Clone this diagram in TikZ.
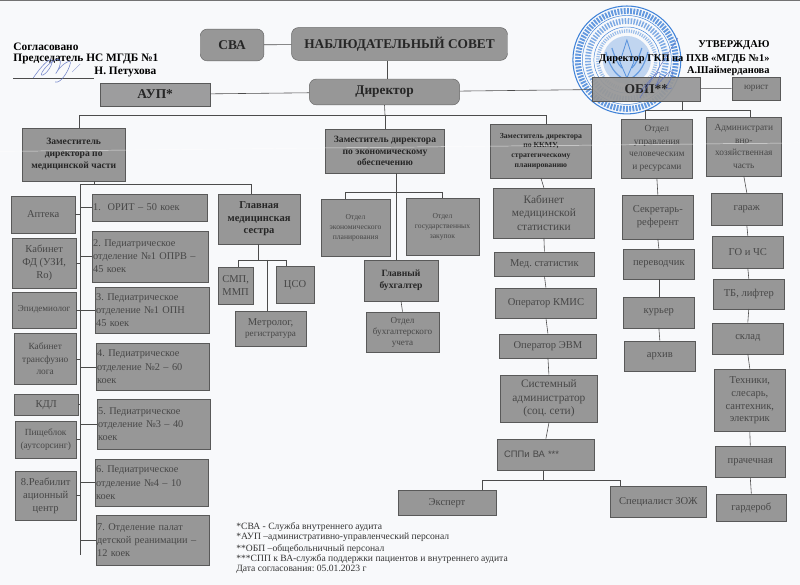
\documentclass[tikz,border=0pt]{standalone}
\usepackage{fontspec}
\setmainfont{Liberation Serif}
\newfontfamily\sansbox{Liberation Sans}
\definecolor{boxgray}{HTML}{979797}
\definecolor{papergray}{HTML}{F8F9FB}
\definecolor{stampblue}{HTML}{3F82D8}
\definecolor{inkblue}{HTML}{5A6FC0}
\frenchspacing
\tikzset{
  stbox/.style={draw=black!65,fill=boxgray,text=black!72,align=center,inner sep=1pt,font=\fontsize{9}{11}\selectfont},
  stleft/.style={stbox,align=left,text width=#1,font=\fontsize{8.8}{11.3}\selectfont},
  bigbox/.style={stbox,font=\fontsize{9.7}{11.5}\selectfont},
  midbox/.style={stbox,font=\fontsize{8}{10.6}\selectfont},
  rbox/.style={stbox,rounded corners=6pt,draw=black!60,text=black!85,font=\fontsize{11.4}{13}\selectfont\bfseries},
  boldbox/.style={stbox,text=black!85,font=\fontsize{8.2}{10.2}\selectfont\bfseries},
  smallbox/.style={stbox,font=\fontsize{7.8}{9.5}\selectfont},
  tinybox/.style={stbox,font=\fontsize{6.5}{8.5}\selectfont},
  conn/.style={draw=black!70,line width=.5pt},
  txt/.style={inner sep=0pt,font=\fontsize{8.9}{10}\selectfont\bfseries},
  txtl/.style={inner sep=0pt,anchor=west,font=\fontsize{9.7}{10}\selectfont\bfseries},
  note/.style={inner sep=0pt,anchor=west,text=black!80,font=\fontsize{8.2}{10}\selectfont}
}
\begin{document}
\begin{tikzpicture}[x=0.03cm,y=-0.03cm]
  \fill[papergray](0,0)rectangle(800,585);
  \fill[black!55](0,0)rectangle(800,1);
  % stamp
  \begin{scope}[stampblue]
    \draw[line width=.9pt](627,60)circle(54);
    \draw[line width=5pt,dash pattern=on 1.6pt off 1.1pt,opacity=.8](627,60)circle(49);
    \draw[line width=.4pt](627,60)circle(44.5);
    \draw[line width=5pt,dash pattern=on 1.3pt off 1.2pt,opacity=.65](627,60)circle(39);
    \draw[line width=.4pt](627,60)circle(33);
    \draw[line width=3pt,dash pattern=on 1pt off 1pt,opacity=.5](627,60)circle(29);
    \fill[opacity=.3](627,60)circle(24);
    \draw[line width=.7pt,opacity=.8](627,40)--(620,62)--(627,78)--(634,62)--cycle;
    \draw[line width=1pt,opacity=.7](606,52)..controls(610,68)and(616,74)..(622,78);
    \draw[line width=1pt,opacity=.7](648,52)..controls(644,68)and(638,74)..(632,78);
    \draw[line width=1pt,opacity=.7](612,48)..controls(616,60)and(618,64)..(622,68);
    \draw[line width=1pt,opacity=.7](642,48)..controls(638,60)and(636,64)..(632,68);
  \end{scope}
  % boxes
  \foreach \n/\x/\y/\w/\h/\t in {sva/232/45/64/32/СВА,nabl/399.5/44/217/33/НАБЛЮДАТЕЛЬНЫЙ СОВЕТ,direktor/384.5/92/151/26/Директор}{
    \node[rbox,minimum width=\w*0.85pt,minimum height=\h*0.85pt](\n)at(\x,\y){\t};
  }
  \foreach \n/\x/\y/\w/\h/\t in {aup/155/94.5/110/23/АУП*,obp/646.5/89/109/24/ОБП**}{
    \node[stbox,fill opacity=.93,text opacity=1,text=black!85,minimum width=\w*0.85pt,minimum height=\h*0.85pt,font=\fontsize{11.5}{13}\selectfont\bfseries](\n)at(\x,\y){\t};
  }
  \foreach \n/\x/\y/\w/\h/\t in {
    zammed/73.5/154.5/103/53/{Заместитель\\директора по\\медицинской части},
    zamecon/385/151/120/44/{Заместитель директора\\по экономическому\\обеспечению},
    buh/401/280.5/74/41/{Главный\\бухгалтер}}{
    \node[boldbox,minimum width=\w*0.85pt,minimum height=\h*0.85pt](\n)at(\x,\y){\t};
  }
  \node[boldbox,font=\fontsize{6.6}{8.3}\selectfont\bfseries,minimum width=102*0.85pt,minimum height=54*0.85pt](zamkkmu)at(541,151){Заместитель директора\\по ККМУ,\\стратегическому\\планированию};
  \node[boldbox,font=\fontsize{9}{10.6}\selectfont\bfseries,minimum width=82*0.85pt,minimum height=50*0.85pt](glav)at(259,219){Главная\\медицинская\\сестра};
  \foreach \n/\x/\y/\w/\h/\t in {
    plan/355.5/227.5/69/57/{Отдел\\экономического\\планирования},
    gos/442.5/226.5/73/57/{Отдел\\государственных\\закупок}}{
    \node[tinybox,minimum width=\w*0.85pt,minimum height=\h*0.85pt](\n)at(\x,\y){\t};
  }
  \foreach \n/\x/\y/\w/\h/\t in {
    otdbuh/402.5/332.5/73/41/{Отдел\\бухгалтерского\\учета},
    epid/44/310/64/36/Эпидемиолог,
    urist/756.5/88.5/49/23/юрист,
    metrolog/270.5/329/71/36/{{\fontsize{9}{11}\selectfont Метролог,}\\регистратура}}{
    \node[smallbox,minimum width=\w*0.85pt,minimum height=\h*0.85pt](\n)at(\x,\y){\t};
  }
  \foreach \n/\x/\y/\w/\h/\t in {
    transf/45/359/62/52/{Кабинет\\трансфузио\\лога},
    pishe/45.5/440/61/38/{Пищеблок\\(аутсорсинг)},
    otdupr/657/148.5/72/59/{Отдел\\управления\\человеческим\\и ресурсами},
    admin/744/146.5/76/59/{Администрати\\вно-\\хозяйственная\\часть}}{
    \node[midbox,minimum width=\w*0.85pt,minimum height=\h*0.85pt](\n)at(\x,\y){\t};
  }
  \foreach \n/\x/\y/\w/\h/\t in {
    kab/544/213/102/50/{Кабинет\\медицинской\\статистики},
    sys/549/399/98/48/{Системный\\администратор\\(соц. сети)}}{
    \node[bigbox,minimum width=\w*0.85pt,minimum height=\h*0.85pt](\n)at(\x,\y){\t};
  }
  \foreach \n/\x/\y/\w/\h/\t in {
    apteka/43/214.5/64/37/Аптека,
    fd/44/263/64/50/{Кабинет\\ФД (УЗИ,\\Rо)},
    kdl/46/405/64/22/КДЛ,
    reab/45.5/496/61/50/{8.Реабилит\\ационный\\центр},
    smp/235.5/285.5/35/37/{СМП,\\ММП},
    cso/295/285/38/37/ЦСО,
    medstat/544.5/264/101/24/{Мед. статистик},
    kmis/546/303/102/30/{Оператор КМИС},
    evm/548/346/98/24/{Оператор ЭВМ},
    eksp/447/503/98/26/Эксперт,
    zoj/658.5/502/97/32/{Специалист ЗОЖ},
    sekr/658/217/72/44/{Секретарь-\\референт},
    perev/659/264/72/30/переводчик,
    kur/659/312.5/72/31/курьер,
    arh/660/356.5/72/31/архив,
    gar/747/209/72/32/гараж,
    go/748/252/72/32/{ГО и ЧС},
    tb/749/294/72/30/{ТБ, лифтер},
    skl/748/338.5/72/31/склад,
    teh/750/400.5/72/63/{Техники,\\слесарь,\\сантехник,\\электрик},
    pra/750.5/462/71/32/прачечная,
    gard/751.5/508/71/28/гардероб}{
    \node[stbox,minimum width=\w*0.85pt,minimum height=\h*0.85pt](\n)at(\x,\y){\t};
  }
  \node[stbox,minimum width=98*0.85pt,minimum height=32*0.85pt,text width=98*0.85pt-12pt,align=left,font=\sansbox\fontsize{8}{10}\selectfont](spp)at(546,455){СППи ВА ***};
  \foreach \n/\x/\y/\w/\h/\t in {
    o1/149.5/207.5/123/27/{1.\ \ ОРИТ – 50 коек},
    o2/150/256.5/124/51/{2. Педиатрическое\\отделение №1 ОПРВ –\\45 коек},
    o3/152/310.5/122/47/{3. Педиатрическое\\отделение №1 ОПН\\45 коек},
    o4/152.5/367/121/48/{4. Педиатрическое\\отделение №2 – 60\\коек},
    o5/153.5/424.5/121/51/{5. Педиатрическое\\отделение №3 – 40\\коек},
    o6/151.5/483/121/48/{6. Педиатрическое\\отделение №4 – 10\\коек},
    o7/152.5/540.5/121/51/{7. Отделение палат\\детской реанимации –\\12 коек}}{
    \node[stleft=\w*0.85pt-8pt,minimum height=\h*0.85pt](\n)at(\x,\y){\t};
  }
  % scan streak
  \draw[white,opacity=.7,line width=.4pt](0,151.5)--(800,143);
  % lines
  \coordinate(naddir)at(387,60);
  \coordinate(topbus)at(385,115);
  \coordinate(topl)at(79,115);
  \coordinate(topr)at(546,115);
  \coordinate(medbus)at(94,184);
  \coordinate(trunk)at(80,184);
  \coordinate(glavr)at(251,184);
  \coordinate(sestra)at(258,260);
  \coordinate(sestral)at(238,260);
  \coordinate(sestrar)at(286,260);
  \coordinate(sestram)at(267,260);
  \coordinate(econbus)at(396,192);
  \coordinate(econl)at(345,192);
  \coordinate(econr)at(442,192);
  \coordinate(obpbus)at(682,110);
  \coordinate(obpl)at(645,110);
  \coordinate(obpr)at(750,110);
  \coordinate(sppbus)at(543,481);
  \coordinate(sppl)at(482,481);
  \coordinate(sppr)at(620,481);
  \foreach \a/\b in {sva/nabl,aup/direktor,direktor/obp,obp/urist}{
    \draw[conn](\a)--(\b);
  }
  \draw[conn](nabl.south-|naddir)--(direktor.north-|naddir);
  \draw[conn](direktor.south)--(topbus);
  \draw[conn](zammed.north-|topl)--(topl)--(topr)--(zamkkmu.north-|topr);
  \draw[conn](topbus)--(zamecon.north-|topbus);
  \draw[conn](zammed.south-|medbus)--(medbus);
  \draw[conn](trunk)--(glavr)--(glav.north-|glavr);
  \draw[conn](trunk)--(80,555);
  \foreach \n in {apteka,fd,epid,transf,kdl,pishe,reab}{
    \draw[conn](\n.east)--(\n.east-|trunk);
  }
  \foreach \n in {o1,o2,o3,o4,o5,o6,o7}{
    \draw[conn](\n.west)--(\n.west-|trunk);
  }
  \draw[conn](glav.south-|sestra)--(sestra);
  \draw[conn](smp.north-|sestral)--(sestral)--(sestrar)--(cso.north-|sestrar);
  \draw[conn](sestram)--(metrolog.north-|sestram);
  \draw[conn](zamecon.south-|econbus)--(buh.north-|econbus);
  \draw[conn](plan.north-|econl)--(econl)--(econr)--(gos.north-|econr);
  \draw[conn](buh.south)--(otdbuh.north);
  \foreach \a/\b in {zamkkmu/kab,kab/medstat,medstat/kmis,kmis/evm,evm/sys,sys/spp,otdupr/sekr,sekr/perev,perev/kur,kur/arh,admin/gar,gar/go,go/tb,tb/skl,skl/teh,teh/pra,pra/gard}{
    \draw[conn](\a.south)--(\b.north);
  }
  \draw[conn](obp.south-|obpbus)--(obpbus);
  \draw[conn](otdupr.north-|obpl)--(obpl)--(obpr)--(admin.north-|obpr);
  \draw[conn](spp.south-|sppbus)--(sppbus);
  \draw[conn](eksp.north-|sppl)--(sppl)--(sppr)--(zoj.north-|sppr);
  % header texts
  \node[txtl](sogl)at(13,47){Согласовано};
  \node[txtl](pred)at(13,59){Председатель НС МГДБ №1};
  \node[txtl](petuh)at(94,72){Н. Петухова};
  \coordinate(podp)at(13,78);
  \draw[conn](podp)--(petuh.south west|-podp);
  \node[txt,anchor=east](utv)at(770,45){УТВЕРЖДАЮ};
  \node[txt,anchor=east](dir)at(770,59){Директор ГКП на ПХВ «МГДБ №1»};
  \node[txt,anchor=east](shaim)at(770,71){А.Шаймерданова};
  % signatures
  \draw[inkblue,line width=.5pt,opacity=.8](33,78)..controls(44,62)and(52,56)..(52,62)..controls(50,72)and(38,80)..(42,72)..controls(48,62)and(62,54)..(60,64)..controls(58,72)and(52,78)..(58,70)..controls(62,64)and(72,58)..(70,64)..controls(68,72)and(60,84)..(55,82);
  \draw[inkblue,line width=.4pt,opacity=.7](72,72)--(80,64);
  \draw[inkblue,line width=.5pt,opacity=.8](640,98)--(678,38);
  \draw[inkblue,line width=.5pt,opacity=.8](640,92)..controls(652,78)and(662,66)..(660,76)..controls(658,84)and(652,90)..(660,82)..controls(668,72)and(676,66)..(672,76)..controls(670,84)and(660,92)..(672,88);
  % footnotes
  \foreach \n/\y/\t in {nsva/527/*СВА - Служба внутреннего аудита,naup/538/*АУП –административно-управленческий персонал,nobp/549/**ОБП –общебольничный персонал,nspp/559/***СПП к ВА-служба поддержки пациентов и внутреннего аудита,ndata/570/{Дата согласования: 05.01.2023 г}}{
    \node[note](\n)at(236,\y){\t};
  }
\end{tikzpicture}
\end{document}
